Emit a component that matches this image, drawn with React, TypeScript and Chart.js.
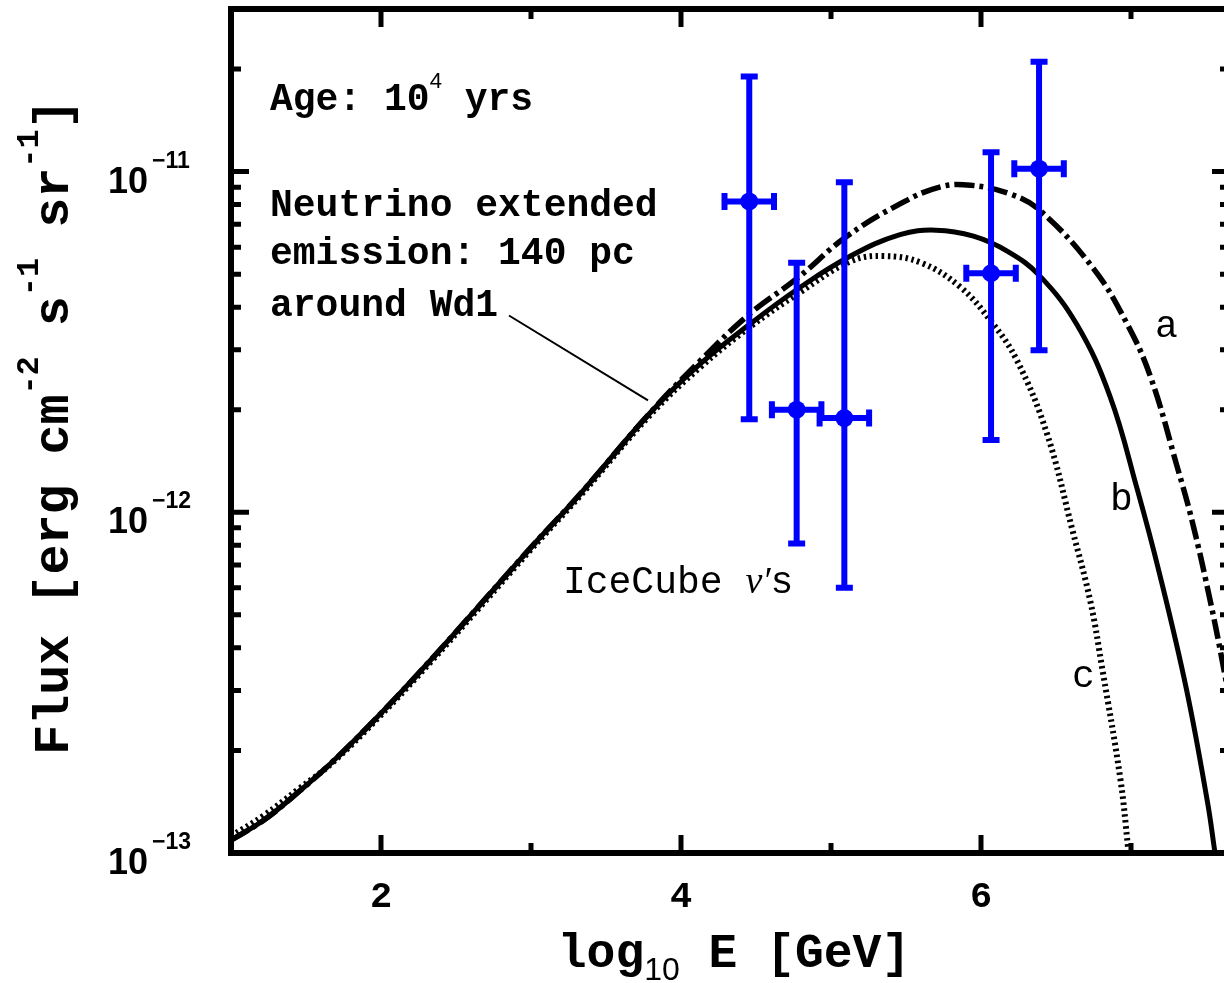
import React, { useEffect, useRef } from "react";
import { Chart, registerables } from "chart.js";

Chart.register(...registerables);

// ---- Model curves (log10 E [GeV] vs flux [erg cm^-2 s^-1 sr^-1]) ----
// a: dash-dot
const curveAEnergy = [1.0, 1.22, 1.45, 1.67, 2.0, 2.33, 2.67, 3.0, 3.33, 3.79, 4.13, 4.46, 4.78, 5.09, 5.46, 5.73, 5.93, 6.19, 6.39, 6.75, 6.97, 7.13, 7.31, 7.41, 7.53, 7.62, 7.7];
const curveAFlux = [1.09e-13, 1.25e-13, 1.51e-13, 1.84e-13, 2.57e-13, 3.68e-13, 5.41e-13, 7.89e-13, 1.135e-12, 1.95e-12, 2.79e-12, 3.83e-12, 4.88e-12, 6.38e-12, 8.04e-12, 9.02e-12, 9.12e-12, 8.61e-12, 7.71e-12, 5.19e-12, 3.6e-12, 2.5e-12, 1.35e-12, 9.33e-13, 5.45e-13, 3.44e-13, 2.19e-13];
// b: solid
const curveBEnergy = [1.0, 1.22, 1.45, 1.67, 2.0, 2.33, 2.67, 3.0, 3.33, 3.79, 4.13, 4.46, 4.79, 5.13, 5.46, 5.7, 5.95, 6.18, 6.39, 6.64, 6.86, 7.04, 7.19, 7.37, 7.51, 7.56, 7.6];
const curveBFlux = [1.09e-13, 1.25e-13, 1.51e-13, 1.84e-13, 2.57e-13, 3.68e-13, 5.41e-13, 7.89e-13, 1.135e-12, 1.95e-12, 2.73e-12, 3.57e-12, 4.56e-12, 5.65e-12, 6.53e-12, 6.73e-12, 6.46e-12, 5.82e-12, 4.95e-12, 3.55e-12, 2.19e-12, 1.175e-12, 6.61e-13, 3.02e-13, 1.41e-13, 1.0e-13, 7.6e-14];
// c: dotted
const curveCEnergy = [1.0, 1.22, 1.45, 1.67, 2.0, 2.33, 2.67, 3.0, 3.33, 3.79, 4.13, 4.46, 4.79, 5.13, 5.35, 5.6, 5.86, 6.07, 6.24, 6.44, 6.61, 6.73, 6.81, 6.93, 6.98, 7.02];
const curveCFlux = [1.12e-13, 1.29e-13, 1.54e-13, 1.83e-13, 2.54e-13, 3.63e-13, 5.33e-13, 7.78e-13, 1.12e-12, 1.92e-12, 2.67e-12, 3.5e-12, 4.41e-12, 5.45e-12, 5.65e-12, 5.4e-12, 4.59e-12, 3.62e-12, 2.79e-12, 1.7e-12, 8.85e-13, 5.45e-13, 3.44e-13, 1.64e-13, 1.04e-13, 7.0e-14];

// ---- IceCube neutrino points ----
const iceEnergy = [4.455, 4.771, 5.089, 6.067, 6.387];
const iceEnergyErr = [0.165, 0.165, 0.165, 0.165, 0.165];
const iceFlux = [8.17e-12, 2.0e-12, 1.89e-12, 5.03e-12, 1.02e-11];
const iceFluxLow = [1.875e-12, 8.1e-13, 6.0e-13, 1.63e-12, 2.99e-12];
const iceFluxHigh = [1.9e-11, 5.4e-12, 9.3e-12, 1.14e-11, 2.1e-11];

// ---- Axes ----
const xMin = 1;
const xMax = 7.66;
const yMin = 1e-13;
const yMax = 3e-11;
const xMajorTicks = [2, 4, 6];
const xMajorLabels = ["2", "4", "6"];
const xMinorTicks = [3, 5, 7];
const yDecades = [-13, -12, -11];
const yTickBase = ["10", "10", "10"];
const yTickExp = ["\u221213", "\u221212", "\u221211"];

const MONO = "'Liberation Mono', 'DejaVu Sans Mono', monospace";
const SANS = "'Liberation Sans', Arial, sans-serif";
const SERIF = "'Liberation Serif', 'DejaVu Serif', serif";
const BLUE = "#0000ff";

type Part = { t: string; f: string; dy?: number };

function drawParts(ctx: CanvasRenderingContext2D, parts: Part[], x: number, y: number, align: "left" | "center") {
  ctx.textAlign = "left";
  ctx.textBaseline = "alphabetic";
  let total = 0;
  for (const p of parts) {
    ctx.font = p.f;
    total += ctx.measureText(p.t).width;
  }
  let cx = align === "center" ? x - total / 2 : x;
  for (const p of parts) {
    ctx.font = p.f;
    ctx.fillText(p.t, cx, y + (p.dy || 0));
    cx += ctx.measureText(p.t).width;
  }
}

const framePlugin = {
  id: "frame",
  afterDatasetsDraw(chart: any) {
    const ctx: CanvasRenderingContext2D = chart.ctx;
    const xs = chart.scales.x;
    const ys = chart.scales.y;
    ctx.save();
    ctx.strokeStyle = BLUE;
    ctx.lineWidth = 6;
    ctx.lineCap = "butt";
    const cap = 8.5;
    for (let i = 0; i < iceEnergy.length; i++) {
      const px = xs.getPixelForValue(iceEnergy[i]);
      const py = ys.getPixelForValue(iceFlux[i]);
      const pl = xs.getPixelForValue(iceEnergy[i] - iceEnergyErr[i]);
      const pr = xs.getPixelForValue(iceEnergy[i] + iceEnergyErr[i]);
      const pLo = ys.getPixelForValue(iceFluxLow[i]);
      const pHi = ys.getPixelForValue(iceFluxHigh[i]);
      ctx.beginPath();
      ctx.moveTo(px, pHi);
      ctx.lineTo(px, pLo);
      ctx.moveTo(pl, py);
      ctx.lineTo(pr, py);
      ctx.moveTo(px - cap, pHi);
      ctx.lineTo(px + cap, pHi);
      ctx.moveTo(px - cap, pLo);
      ctx.lineTo(px + cap, pLo);
      ctx.moveTo(pl, py - cap);
      ctx.lineTo(pl, py + cap);
      ctx.moveTo(pr, py - cap);
      ctx.lineTo(pr, py + cap);
      ctx.stroke();
    }
    ctx.restore();
  },
  afterDraw(chart: any) {
    const ctx: CanvasRenderingContext2D = chart.ctx;
    const xs = chart.scales.x;
    const ys = chart.scales.y;
    const a = chart.chartArea;
    ctx.save();
    ctx.strokeStyle = "#000";
    ctx.fillStyle = "#000";

    // frame
    ctx.lineWidth = 6;
    ctx.strokeRect(a.left, a.top, a.right - a.left, a.bottom - a.top);

    // ticks (inward)
    ctx.lineWidth = 5;
    ctx.lineCap = "butt";
    ctx.beginPath();
    const major = 18;
    const minor = 10;
    for (const v of xMajorTicks) {
      const p = xs.getPixelForValue(v);
      ctx.moveTo(p, a.bottom);
      ctx.lineTo(p, a.bottom - major);
      ctx.moveTo(p, a.top);
      ctx.lineTo(p, a.top + major);
    }
    for (const v of xMinorTicks) {
      const p = xs.getPixelForValue(v);
      ctx.moveTo(p, a.bottom);
      ctx.lineTo(p, a.bottom - minor);
      ctx.moveTo(p, a.top);
      ctx.lineTo(p, a.top + minor);
    }
    for (const d of yDecades) {
      for (let m = 1; m <= 9; m++) {
        const val = m * Math.pow(10, d);
        if (m === 1 && d === -13) continue;
        if (val > yMax * 0.999) continue;
        const p = ys.getPixelForValue(val);
        const len = m === 1 ? major : minor;
        ctx.moveTo(a.left, p);
        ctx.lineTo(a.left + len, p);
        ctx.moveTo(a.right, p);
        ctx.lineTo(a.right - len, p);
      }
    }
    ctx.stroke();

    // x tick labels
    ctx.textAlign = "center";
    ctx.textBaseline = "alphabetic";
    ctx.font = `bold 37px ${MONO}`;
    xMajorTicks.forEach((v, i) => {
      ctx.fillText(xMajorLabels[i], xs.getPixelForValue(v), a.bottom + 54);
    });

    // y tick labels
    yDecades.forEach((d, i) => {
      const p = ys.getPixelForValue(Math.pow(10, d));
      ctx.textAlign = "right";
      ctx.font = `bold 36px ${SANS}`;
      ctx.fillText(yTickBase[i], 148, p + 21);
      ctx.textAlign = "left";
      ctx.font = `bold 23px ${SANS}`;
      ctx.fillText(yTickExp[i], 152, p - 4);
    });

    // x title
    drawParts(
      ctx,
      [
        { t: "log", f: `bold 48px ${MONO}` },
        { t: "10", f: `32px ${SANS}`, dy: 13 },
        { t: " E [GeV]", f: `bold 48px ${MONO}` },
      ],
      734,
      967,
      "center"
    );

    // y title (rotated)
    ctx.save();
    ctx.translate(68, 427);
    ctx.rotate(-Math.PI / 2);
    const mf = `bold 50px ${MONO}`;
    const sf = `bold 32px ${MONO}`;
    drawParts(
      ctx,
      [
        { t: "Flux [erg cm", f: mf },
        { t: "-2", f: sf, dy: -30 },
        { t: " s", f: mf },
        { t: "-1", f: sf, dy: -30 },
        { t: " sr", f: mf },
        { t: "-1", f: sf, dy: -30 },
        { t: "]", f: mf },
      ],
      0,
      0,
      "center"
    );
    ctx.restore();

    // annotations (anchored in data coordinates)
    const X = (v: number) => xs.getPixelForValue(v);
    const Y = (v: number) => ys.getPixelForValue(v);
    const bf = `bold 38px ${MONO}`;
    drawParts(
      ctx,
      [
        { t: "Age: 10", f: bf },
        { t: "4", f: `22px ${SANS}`, dy: -22 },
        { t: " yrs", f: bf },
      ],
      X(1.26),
      Y(1.52e-11),
      "left"
    );
    drawParts(ctx, [{ t: "Neutrino extended", f: bf }], X(1.26), Y(7.41e-12), "left");
    drawParts(ctx, [{ t: "emission: 140 pc", f: bf }], X(1.26), Y(5.36e-12), "left");
    drawParts(ctx, [{ t: "around Wd1", f: bf }], X(1.26), Y(3.77e-12), "left");

    // leader line
    ctx.lineWidth = 2;
    ctx.beginPath();
    ctx.moveTo(X(2.853), Y(3.78e-12));
    ctx.lineTo(X(3.78), Y(2.13e-12));
    ctx.stroke();

    const rf = `38px ${MONO}`;
    drawParts(
      ctx,
      [
        { t: "IceCube ", f: rf },
        { t: "\u03bd\u2032", f: `italic 38px ${SERIF}` },
        { t: "s", f: rf },
      ],
      X(3.213),
      Y(5.78e-13),
      "left"
    );
    drawParts(ctx, [{ t: "a", f: rf }], X(7.16), Y(3.26e-12), "left");
    drawParts(ctx, [{ t: "b", f: rf }], X(6.86), Y(1.014e-12), "left");
    drawParts(ctx, [{ t: "c", f: rf }], X(6.607), Y(3.07e-13), "left");

    ctx.restore();
  },
};

const toXY = (xs: number[], ys: number[]) => xs.map((x, i) => ({ x, y: ys[i] }));

export default function App() {
  const ref = useRef<HTMLCanvasElement>(null);
  useEffect(() => {
    const canvas = ref.current;
    if (!canvas) return;
    const chart = new Chart(canvas, {
      type: "line",
      data: {
        datasets: [
          {
            label: "IceCube",
            data: toXY(iceEnergy, iceFlux),
            showLine: false,
            pointRadius: 9,
            pointBackgroundColor: BLUE,
            pointBorderColor: BLUE,
            pointBorderWidth: 0,
            order: 0,
          },
          {
            label: "a",
            data: toXY(curveAEnergy, curveAFlux),
            borderColor: "#000",
            borderWidth: 5.5,
            borderDash: [20, 5, 4, 5],
            pointRadius: 0,
            tension: 0.4,
            fill: false,
            order: 1,
          },
          {
            label: "b",
            data: toXY(curveBEnergy, curveBFlux),
            borderColor: "#000",
            borderWidth: 5,
            pointRadius: 0,
            tension: 0.4,
            fill: false,
            order: 2,
          },
          {
            label: "c",
            data: toXY(curveCEnergy, curveCFlux),
            borderColor: "#000",
            borderWidth: 6,
            borderDash: [2.5, 3.5],
            pointRadius: 0,
            tension: 0.4,
            fill: false,
            order: 3,
          },
        ],
      },
      options: {
        responsive: false,
        animation: false,
        devicePixelRatio: 1,
        events: [],
        layout: { padding: { left: 0, top: 8, right: 15, bottom: 0 } },
        plugins: { legend: { display: false }, tooltip: { enabled: false } },
        scales: {
          x: {
            type: "linear",
            min: xMin,
            max: xMax,
            ticks: { display: false },
            grid: { display: false },
            border: { display: false },
            afterFit: (s: any) => {
              s.height = 130;
            },
          },
          y: {
            type: "logarithmic",
            min: yMin,
            max: yMax,
            ticks: { display: false },
            grid: { display: false },
            border: { display: false },
            afterFit: (s: any) => {
              s.width = 231;
            },
          },
        },
      } as any,
      plugins: [framePlugin],
    });
    return () => chart.destroy();
  }, []);
  return (
    <div
      style={{
        position: "fixed",
        left: 0,
        top: 0,
        width: 1224,
        height: 983,
        overflow: "hidden",
        background: "#fff",
      }}
    >
      <canvas ref={ref} width={1245} height={983} style={{ display: "block" }} />
    </div>
  );
}
